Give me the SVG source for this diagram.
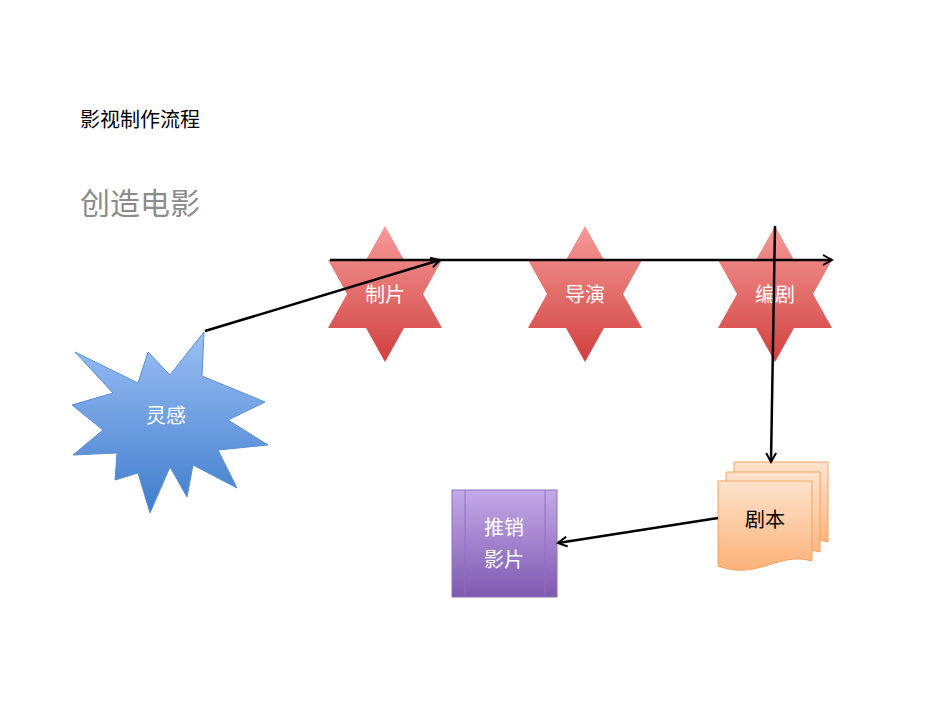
<svg xmlns="http://www.w3.org/2000/svg" width="950" height="713" viewBox="0 0 950 713">
<style>
.t{font-family:"Liberation Sans","Noto Sans CJK SC",sans-serif}
.w{fill:#fff;font-size:20px;text-anchor:middle}
.c{fill:none;stroke:#000;stroke-width:2.5}
</style>
<defs>
<linearGradient id="r" x1="0" y1="0" x2="0" y2="1"><stop offset="0" stop-color="#f59a98"/><stop offset="1" stop-color="#d0403e"/></linearGradient>
<linearGradient id="b" x1="0" y1="0" x2="0" y2="1"><stop offset="0" stop-color="#9cc0f5"/><stop offset="1" stop-color="#3f7ccc"/></linearGradient>
<linearGradient id="o" x1="0" y1="0" x2="0" y2="1"><stop offset="0" stop-color="#fde3cc"/><stop offset="1" stop-color="#fbb178"/></linearGradient>
<linearGradient id="p" x1="0" y1="0" x2="0" y2="1"><stop offset="0" stop-color="#c4a9e8"/><stop offset="1" stop-color="#7e5ab0"/></linearGradient>
<polygon id="star" points="385,226 404,260 442,260 423,294 442,328 404,328 385,362 366,328 328,328 347,294 328,260 366,260" fill="url(#r)"/>
<path id="doc" d="M0,0 H94 V80 C60,70 40,100 0,85 Z" fill="url(#o)" stroke="#f4a460" stroke-width="1"/>
<marker id="a" markerWidth="12" markerHeight="12" refX="10" refY="6" orient="auto" markerUnits="userSpaceOnUse"><path d="M1,1 L10,6 L1,11" fill="none" stroke="#000" stroke-width="2"/></marker>
</defs>
<rect width="950" height="713" fill="#fff"/>
<text class="t" x="80" y="127" font-size="20">影视制作流程</text>
<text class="t" x="80" y="214" font-size="30" fill="#8c8c8c">创造电影</text>
<g id="n1"><use href="#star"/><text class="t w" x="385" y="302">制片</text></g>
<g id="n2"><use href="#star" x="200"/><text class="t w" x="585" y="302">导演</text></g>
<g id="n3"><use href="#star" x="390"/><text class="t w" x="775" y="302">编剧</text></g>
<g id="n4"><polygon points="204,332 202,376 265,402 228,420 268,445 218,450 237,488 193,465 187,497 170,467 150,513 138,473 115,480 117,453 73,455 103,430 72,405 113,393 75,352 138,383 148,352 170,375" fill="url(#b)" stroke="#5a8fd6" stroke-width="1"/><text class="t w" x="166" y="423">灵感</text></g>
<g id="n5"><use href="#doc" x="734" y="462"/><use href="#doc" x="726" y="472"/><use href="#doc" x="718" y="481"/><text class="t" x="765" y="527" font-size="20" text-anchor="middle">剧本</text></g>
<g id="n6"><rect x="452" y="490" width="105" height="107" fill="url(#p)" stroke="#8f70c0"/><line x1="465" y1="490" x2="465" y2="597" stroke="#8f70c0"/><line x1="545" y1="490" x2="545" y2="597" stroke="#8f70c0"/><text class="t w" x="504" y="535">推销</text><text class="t w" x="504" y="567">影片</text></g>
<g id="connectors">
<line class="c" x1="205" y1="331" x2="440" y2="260" marker-end="url(#a)"/>
<line class="c" x1="330" y1="260" x2="832" y2="260" marker-end="url(#a)"/>
<line class="c" x1="775" y1="226" x2="771" y2="462" marker-end="url(#a)"/>
<line class="c" x1="718" y1="518" x2="558" y2="543" marker-end="url(#a)"/>
</g>
</svg>
